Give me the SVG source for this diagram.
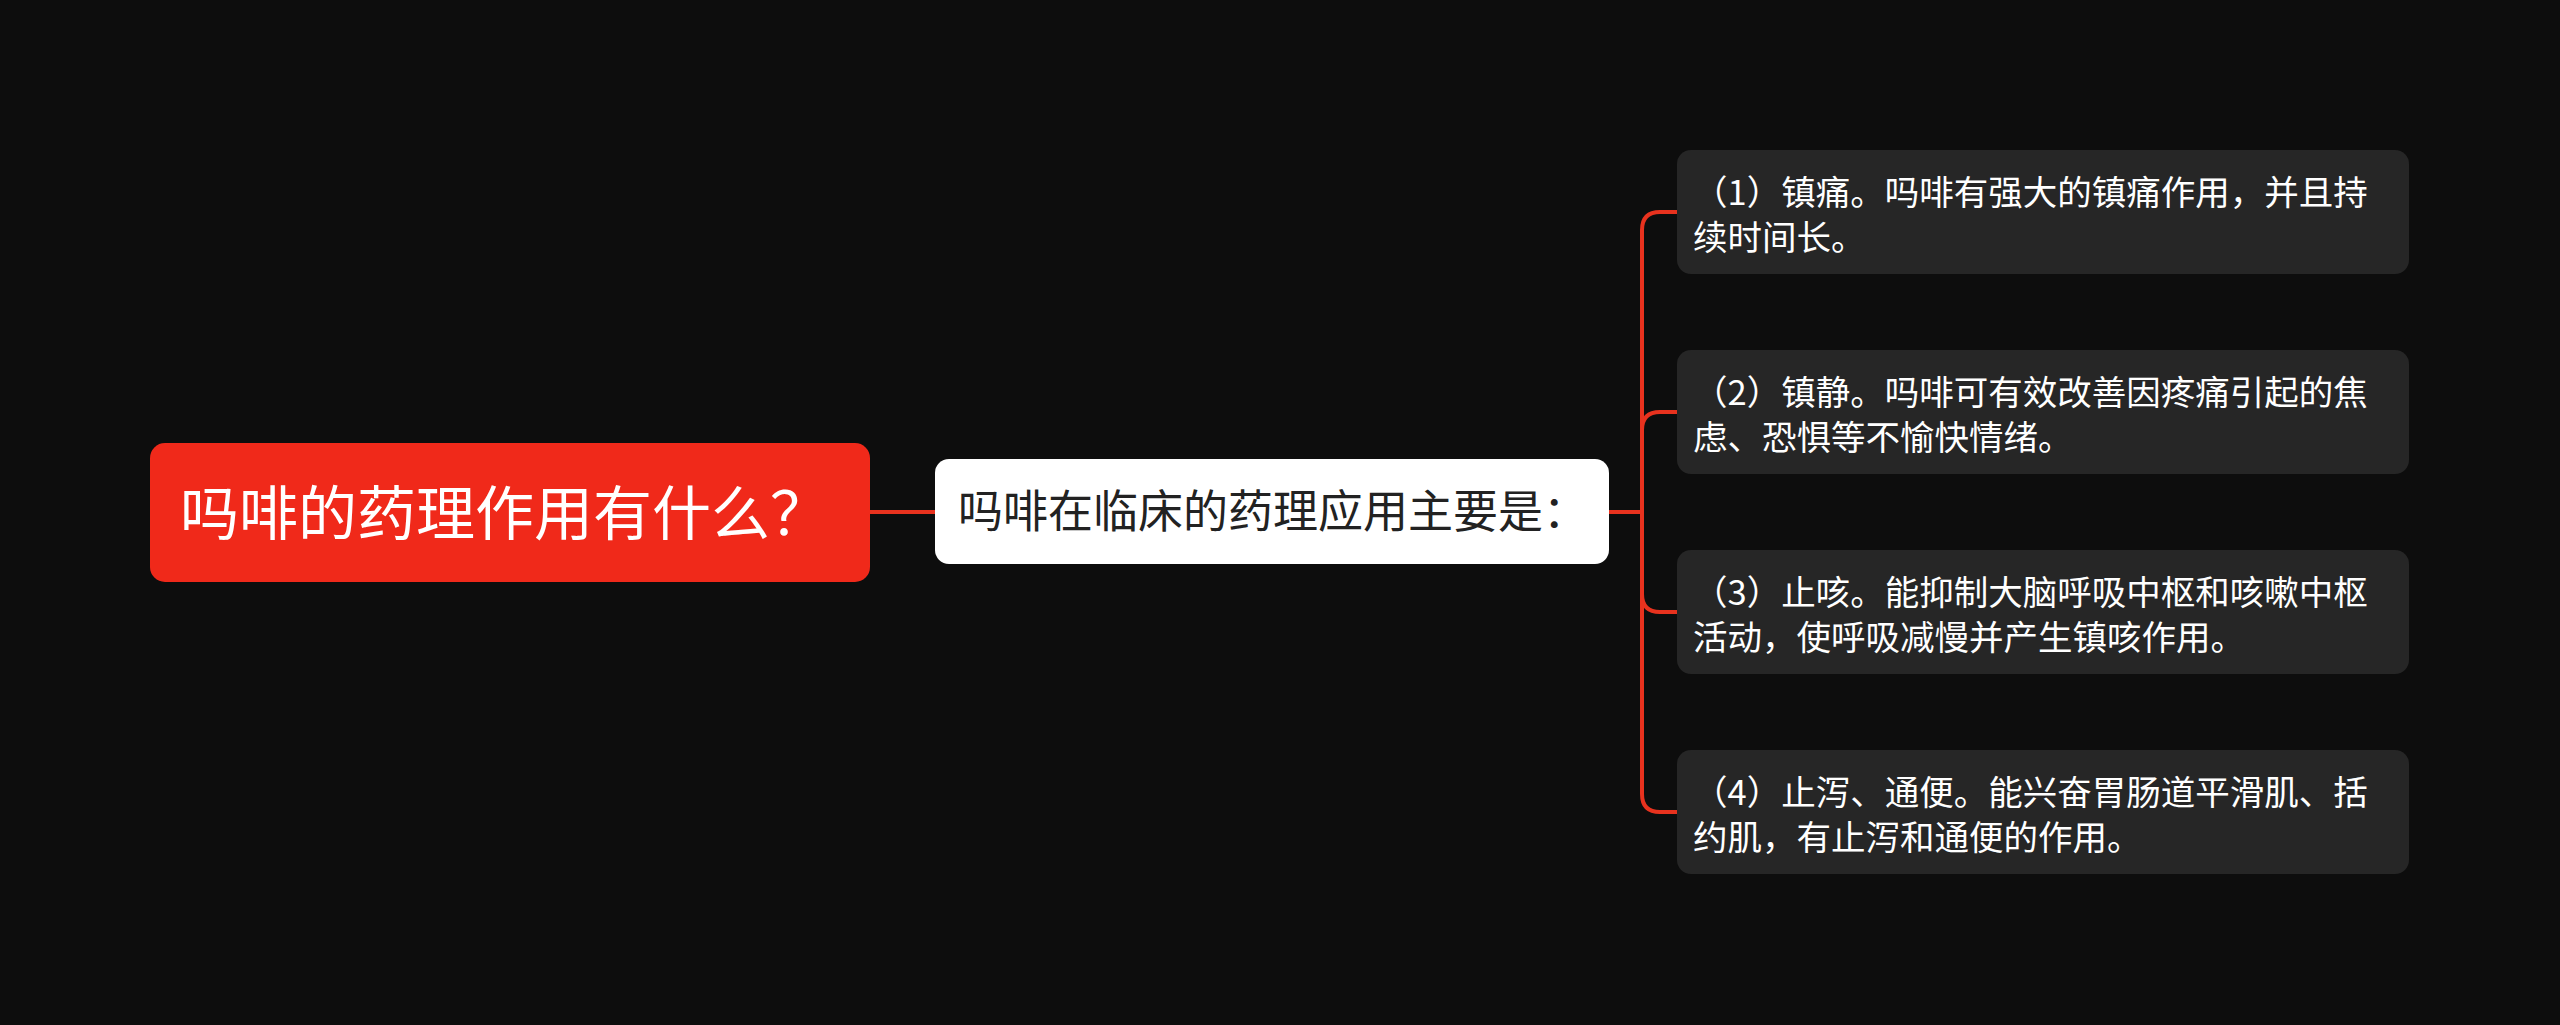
<svg xmlns="http://www.w3.org/2000/svg" width="2560" height="1025" viewBox="0 0 2560 1025">
<style>
text{font-family:"Noto Sans CJK SC","Noto Sans",sans-serif;}
.root{fill:#ffffff;font-size:59px;}
.mid{fill:#222222;font-size:45px;}
.leaf{fill:#ffffff;font-size:34.5px;}
.leafbox{fill:#262626;}
.conn{fill:none;stroke:#e8321e;stroke-width:4;}
</style>
<rect width="2560" height="1025" fill="#0d0d0d"/>
<g id="connectors">
<path class="conn" d="M870 512 H935"/>
<path class="conn" d="M1609 512 H1642 V230 Q1642 212 1660 212 H1677"/>
<path class="conn" d="M1609 512 H1642 V430 Q1642 412 1660 412 H1677"/>
<path class="conn" d="M1609 512 H1642 V594 Q1642 612 1660 612 H1677"/>
<path class="conn" d="M1609 512 H1642 V794 Q1642 812 1660 812 H1677"/>
</g>
<g id="root">
<rect x="150" y="443" width="720" height="139" rx="15" fill="#f0291a"/>
<text class="root" x="180" y="535">吗啡的药理作用有什么？</text>
</g>
<g id="middle">
<rect x="935" y="459" width="674" height="105" rx="14" fill="#ffffff"/>
<text class="mid" x="958" y="528">吗啡在临床的药理应用主要是：</text>
</g>
<g id="leaf1">
<rect class="leafbox" x="1677" y="150" width="732" height="124" rx="14"/>
<text class="leaf" x="1693" y="205">（1）镇痛。吗啡有强大的镇痛作用，并且持</text>
<text class="leaf" x="1693" y="250">续时间长。</text>
</g>
<g id="leaf2">
<rect class="leafbox" x="1677" y="350" width="732" height="124" rx="14"/>
<text class="leaf" x="1693" y="405">（2）镇静。吗啡可有效改善因疼痛引起的焦</text>
<text class="leaf" x="1693" y="450">虑、恐惧等不愉快情绪。</text>
</g>
<g id="leaf3">
<rect class="leafbox" x="1677" y="550" width="732" height="124" rx="14"/>
<text class="leaf" x="1693" y="605">（3）止咳。能抑制大脑呼吸中枢和咳嗽中枢</text>
<text class="leaf" x="1693" y="650">活动，使呼吸减慢并产生镇咳作用。</text>
</g>
<g id="leaf4">
<rect class="leafbox" x="1677" y="750" width="732" height="124" rx="14"/>
<text class="leaf" x="1693" y="805">（4）止泻、通便。能兴奋胃肠道平滑肌、括</text>
<text class="leaf" x="1693" y="850">约肌，有止泻和通便的作用。</text>
</g>
</svg>
